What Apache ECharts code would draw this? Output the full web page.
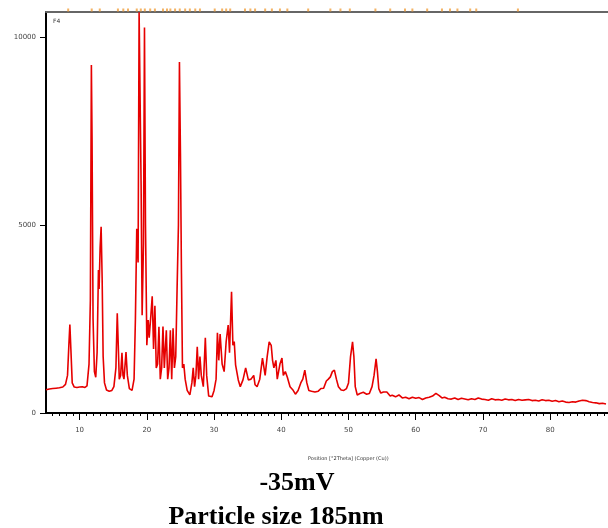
<!DOCTYPE html>
<html><head><meta charset="utf-8">
<script src="https://cdn.jsdelivr.net/npm/echarts@6/dist/echarts.min.js"></script>
<style>html,body{margin:0;padding:0;background:#fff}#c{width:608px;height:528px}</style>
</head><body><div id="c"></div>
<script>
// 2Theta positions (degrees)
const twoTheta = [5.0,5.5,6.0,6.5,7.0,7.5,7.9,8.2,8.4,8.55,8.7,8.9,9.2,9.6,10.0,10.4,10.8,11.1,11.4,11.6,11.75,11.85,12.0,12.2,12.4,12.6,12.8,12.9,13.05,13.2,13.35,13.5,13.7,14.0,14.4,14.8,15.1,15.4,15.6,15.75,15.9,16.1,16.3,16.45,16.6,16.9,17.1,17.4,17.8,18.1,18.3,18.5,18.7,18.85,19.0,19.15,19.3,19.5,19.65,19.8,20.0,20.2,20.35,20.6,20.8,21.0,21.2,21.4,21.6,21.8,22.0,22.2,22.4,22.6,22.9,23.1,23.3,23.5,23.7,23.9,24.1,24.3,24.5,24.7,24.85,25.0,25.15,25.3,25.5,25.7,26.0,26.4,26.7,26.9,27.1,27.3,27.5,27.7,27.9,28.1,28.4,28.7,28.9,29.2,29.7,30.0,30.3,30.5,30.7,30.9,31.2,31.5,31.8,32.1,32.3,32.6,32.8,33.0,33.2,33.6,33.9,34.3,34.7,35.1,35.5,35.9,36.1,36.4,36.8,37.2,37.6,37.9,38.2,38.5,38.7,38.9,39.2,39.4,39.8,40.1,40.3,40.6,40.9,41.3,41.7,42.1,42.5,42.9,43.2,43.5,43.8,44.1,44.5,45.0,45.5,45.9,46.3,46.7,47.0,47.3,47.6,47.9,48.2,48.5,48.9,49.3,49.7,50.0,50.3,50.6,50.8,51.0,51.3,51.7,52.2,52.7,53.1,53.5,53.8,54.1,54.3,54.5,54.8,55.2,55.7,56.2,56.5,57.0,57.5,58.0,58.5,59.0,59.5,60.0,60.5,61.0,61.5,62.0,62.5,63.0,63.5,63.9,64.3,64.8,65.3,65.8,66.3,66.8,67.3,67.8,68.3,68.8,69.3,69.8,70.3,70.8,71.3,71.8,72.3,72.8,73.3,73.8,74.3,74.8,75.3,75.8,76.3,76.8,77.3,77.8,78.3,78.8,79.3,79.8,80.3,80.8,81.3,81.8,82.3,82.8,83.3,83.8,84.3,84.8,85.3,85.8,86.3,86.8,87.3,87.8,88.3,88.6];
// Counts
const counts = [620,640,650,660,670,690,760,1000,1800,2350,1700,800,690,680,690,700,680,720,1300,3000,9250,7300,2500,1100,950,1600,3800,3300,4400,4950,3600,1500,800,610,580,600,700,1200,2650,1800,900,1000,1600,1000,900,1620,1000,650,600,900,2500,4900,4000,10650,10650,6000,2600,4500,10250,5000,1800,2470,2000,2600,3100,1700,2850,1200,1300,2290,900,1200,2300,1200,2200,900,1200,2200,900,2250,1200,1500,3300,5000,9330,6900,3700,1200,1300,900,600,480,800,1200,700,1000,1760,900,1500,1000,700,2000,1000,450,430,600,900,2130,1400,2100,1300,1100,1900,2340,1600,3220,1800,1900,1280,880,700,880,1200,880,900,1000,750,700,900,1460,1000,1500,1890,1800,1400,1200,1400,900,1300,1460,1000,1100,950,700,620,500,600,800,900,1140,800,600,580,560,580,650,660,850,900,960,1100,1140,900,700,610,600,650,800,1500,1890,1500,700,480,520,550,500,520,700,1000,1440,1100,650,530,560,560,450,470,430,480,400,420,380,420,390,410,360,400,420,450,520,460,400,420,380,370,400,360,390,370,350,380,360,400,370,360,340,380,350,360,340,370,350,360,330,360,340,350,360,330,340,320,350,330,340,310,330,300,320,290,280,300,290,320,340,330,300,280,270,250,260,240];
// Reference pattern marker positions (degrees)
const refPeaks = [8.3,11.8,13.0,15.7,16.5,17.2,18.5,19.1,19.7,20.5,21.2,22.4,23.0,23.5,24.2,24.9,25.7,26.4,27.2,27.9,30.1,31.2,31.8,32.4,34.6,35.4,36.1,37.6,38.6,39.8,40.9,44.0,47.3,48.8,50.2,54.0,56.2,58.4,59.5,61.7,63.9,65.1,66.2,68.1,69.0,75.2];
// Tick labels
const xMajorTicks = [10,20,30,40,50,60,70,80];
const xMinorTicks = [];
for (let v = 6; v <= 88; v++) if (v % 10 !== 0) xMinorTicks.push(v);
const yTicks = [0,5000,10000];
const X_MIN = 5, X_MAX = 88.6, Y_MAX = 10660;

const lineData = twoTheta.map((t, i) => [t, counts[i]]);
const refData = refPeaks.map(t => [t, 0.5]);

const chart = echarts.init(document.getElementById('c'), null, {renderer: 'canvas'});
const labelStyle = {fontSize: 7, color: '#444', fontFamily: 'DejaVu Sans'};
chart.setOption({
  animation: false,
  backgroundColor: '#fff',
  title: [
    {text: 'F4', left: 48, top: 13, textStyle: {fontSize: 6, fontWeight: 'normal', color: '#333', fontFamily: 'DejaVu Sans'}},
    {text: 'Position [°2Theta] (Copper (Cu))', left: 303, top: 451, textStyle: {fontSize: 5, fontWeight: 'normal', color: '#333', fontFamily: 'DejaVu Sans'}},
    {text: '-35mV', left: 292, top: 465, textAlign: 'center', textStyle: {fontSize: 26, fontWeight: 'bold', color: '#000', fontFamily: 'Liberation Serif'}},
    {text: 'Particle size 185nm', left: 271, top: 499, textAlign: 'center', textStyle: {fontSize: 26, fontWeight: 'bold', color: '#000', fontFamily: 'Liberation Serif'}}
  ],
  grid: [
    {left: 46, right: 0, top: 12, bottom: 115},
    {left: 46, right: 0, top: 8, height: 4}
  ],
  xAxis: [
    {type: 'value', gridIndex: 0, min: X_MIN, max: X_MAX, position: 'bottom',
     axisLine: {show: true, lineStyle: {color: '#000', width: 2}},
     axisTick: {show: true, length: 7, customValues: xMajorTicks, lineStyle: {color: '#000', width: 1}},
     axisLabel: {show: true, customValues: xMajorTicks, margin: 14, ...labelStyle},
     splitLine: {show: false}},
    {type: 'value', gridIndex: 0, min: X_MIN, max: X_MAX, position: 'bottom',
     axisLine: {show: false},
     axisTick: {show: true, length: 3, customValues: xMinorTicks, lineStyle: {color: '#000', width: 1}},
     axisLabel: {show: false}, splitLine: {show: false}},
    {type: 'value', gridIndex: 0, min: X_MIN, max: X_MAX, position: 'top',
     axisLine: {show: true, lineStyle: {color: '#666', width: 2}},
     axisTick: {show: false}, axisLabel: {show: false}, splitLine: {show: false}},
    {type: 'value', gridIndex: 1, min: X_MIN, max: X_MAX, show: false}
  ],
  yAxis: [
    {type: 'value', gridIndex: 0, min: 0, max: Y_MAX,
     axisLine: {show: true, lineStyle: {color: '#000', width: 2}},
     axisTick: {show: true, length: 6, customValues: yTicks, lineStyle: {color: '#000', width: 1}},
     axisLabel: {show: true, customValues: yTicks, margin: 10, formatter: v => String(v), ...labelStyle},
     splitLine: {show: false}},
    {type: 'value', gridIndex: 1, min: 0, max: 1, show: false}
  ],
  series: [
    {type: 'line', xAxisIndex: 0, yAxisIndex: 0, data: lineData, showSymbol: false, symbol: 'none',
     lineStyle: {color: '#e60000', width: 1.6}, clip: true},
    {type: 'scatter', xAxisIndex: 3, yAxisIndex: 1, data: refData, symbol: 'rect', symbolSize: [2, 3],
     itemStyle: {color: '#f0a040'}}
  ]
});
</script></body></html>
